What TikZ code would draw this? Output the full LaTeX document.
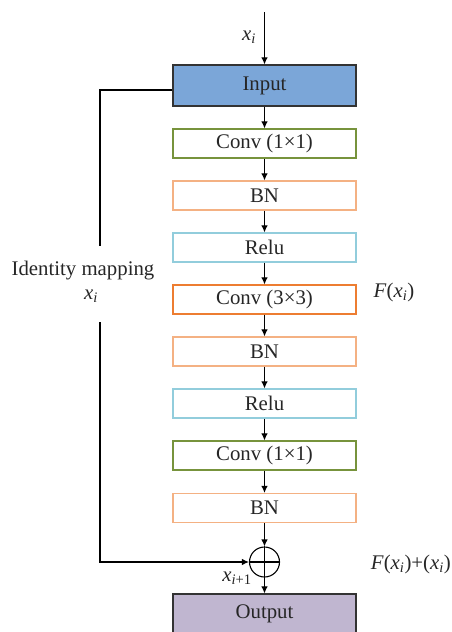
\documentclass[tikz,border=0pt]{standalone}
\usepackage{fontspec}
\setmainfont{Liberation Serif}
\usetikzlibrary{arrows.meta}
\definecolor{inblue}{HTML}{7BA6D8}
\definecolor{outlav}{HTML}{C0B6D0}
\definecolor{cgreen}{HTML}{77933C}
\definecolor{bnorange}{HTML}{F4B183}
\definecolor{relucyan}{HTML}{92CDDC}
\definecolor{corange}{HTML}{ED7D31}
\definecolor{edge}{HTML}{333333}
\definecolor{txt}{HTML}{262626}
\newcommand{\xsub}{\textit{x}\textsubscript{\textit{i}}}
\begin{document}
\begin{tikzpicture}[x=1pt,y=-1pt,
  font=\fontsize{20.8}{25}\selectfont,
  box/.style={draw, minimum width=183pt, minimum height=29pt, inner sep=0pt, line width=1.2pt, text=txt},
  arr/.style={-{Latex[length=7pt,width=6.5pt]}, line width=1.1pt, draw=black},
  ln/.style={line width=1.1pt, draw=black},
  lbl/.style={inner sep=0pt, text=txt}]
\useasboundingbox (0,0) rectangle (452,632);
\clip (0,0) rectangle (452,632);
\coordinate (top) at (264.5,12);
\node[box, fill=inblue, draw=edge, minimum height=41pt] (in) at (264.5,85.5) {Input};
\node[box, draw=cgreen] (c1) at (264.5,143.5) {Conv (1×1)};
\node[box, draw=bnorange] (b1) at (264.5,195.5) {BN};
\node[box, draw=relucyan] (r1) at (264.5,247.5) {Relu};
\node[box, draw=corange] (c3) at (264.5,299.5) {Conv (3×3)};
\node[box, draw=bnorange] (b2) at (264.5,351.5) {BN};
\node[box, draw=relucyan] (r2) at (264.5,403.5) {Relu};
\node[box, draw=cgreen] (c4) at (264.5,455.5) {Conv (1×1)};
\node[box, draw=bnorange] (b3) at (264.5,508) {BN};
\node[draw, circle, minimum size=30pt, inner sep=0pt, line width=1.1pt] (sum) at (264.5,562) {};
\node[box, fill=outlav, draw=edge, minimum height=40pt] (out) at (264.5,614) {Output};
% labels
\node[lbl] (lxi) at (249,37) {\xsub};
\node[lbl] (lid) at (83,271) {Identity mapping};
\node[lbl] (lxi2) at (91,296) {\xsub};
\node[lbl] (lf) at (394,292) {\textit{F}(\xsub)};
\node[lbl, anchor=east] (lsum) at (451,564) {\textit{F}(\xsub)+(\xsub)};
\node[lbl] (lx1) at (237,578) {\textit{x}\textsubscript{\textit{i}+1}};
% main chain
\draw[arr] (top) -- (in);
\draw[arr] (in) -- (c1);
\draw[arr] (c1) -- (b1);
\draw[arr] (b1) -- (r1);
\draw[arr] (r1) -- (c3);
\draw[arr] (c3) -- (b2);
\draw[arr] (b2) -- (r2);
\draw[arr] (r2) -- (c4);
\draw[arr] (c4) -- (b3);
\draw[arr] (b3) -- (sum.north);
\draw[ln] (sum.north) -- (sum.south);
\draw[ln] (sum.west) -- (sum.east);
\draw[arr] (sum.south) -- (out);
% identity mapping
\coordinate (L1) at (100,90);
\coordinate (L2) at (100,246);
\coordinate (L3) at (100,322);
\coordinate (L4) at (100,562);
\draw[ln] (in.west |- L1) -- (L1) -- (L2);
\draw[arr] (L3) -- (L4) -- (sum.west);
\end{tikzpicture}
\end{document}
